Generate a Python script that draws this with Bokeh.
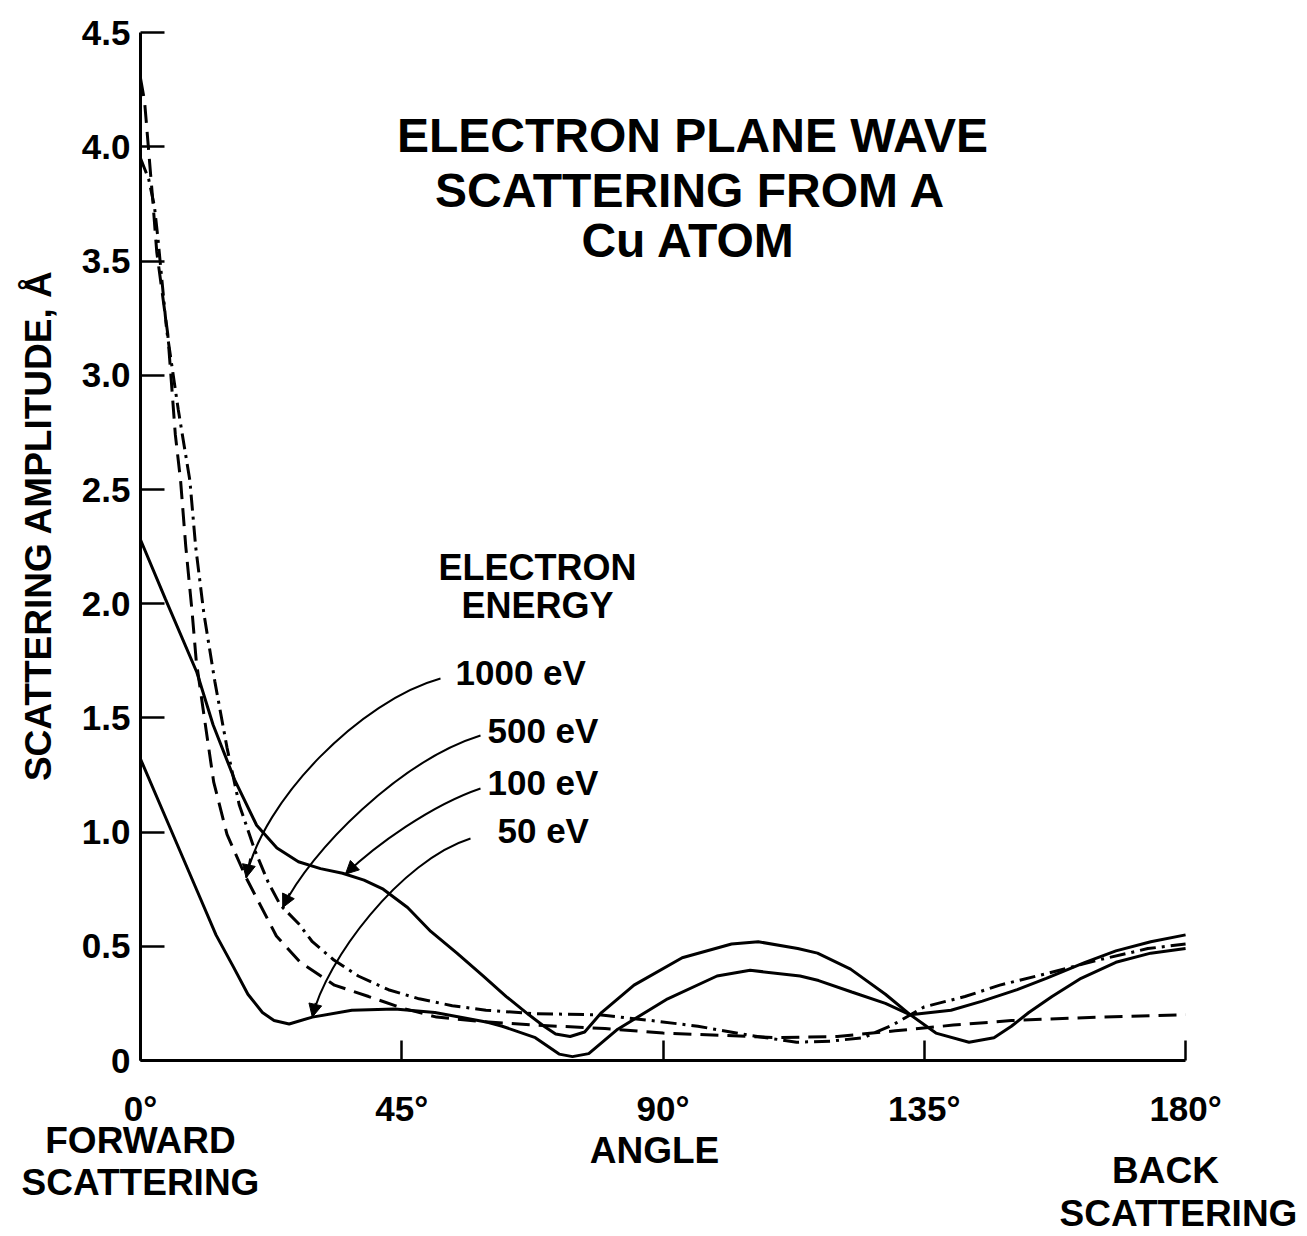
import numpy as np
from bokeh.plotting import figure
from bokeh.models import FixedTicker, Label, Arrow, NormalHead, LinearAxis
from bokeh.embed import file_html
from bokeh.resources import INLINE

# ---------------- data ----------------
angle_1000 = [0, 0.7, 2.1, 2.8, 4.7, 6.0, 6.9, 7.8, 8.9, 9.6, 11.0, 12.6, 14.9, 18.2, 23.4, 27.5,
              33.4, 39.3, 45, 51, 59, 68, 80, 90, 100, 110, 120, 130, 140, 150, 165, 180]
amp_1000 = [4.30, 4.20, 3.77, 3.54, 3.18, 2.74, 2.54, 2.25, 1.96, 1.75, 1.50, 1.22, 0.99, 0.80, 0.545, 0.43,
            0.33, 0.28, 0.23, 0.19, 0.17, 0.155, 0.14, 0.12, 0.11, 0.10, 0.105, 0.13, 0.155, 0.175, 0.19, 0.20]

angle_500 = [0, 1.4, 2.4, 3.0, 4.5, 6.5, 8.5, 9.5, 10.9, 12.8, 14.9, 17, 19.7, 22, 24.1, 27.2, 29.6,
             33.3, 37.5, 42.7, 48, 53.7, 59.5, 68, 79, 88, 96, 105, 113, 119, 124.5, 129.5, 135,
             142, 148, 156, 165, 173.5, 180]
amp_500 = [3.95, 3.86, 3.74, 3.60, 3.20, 2.85, 2.54, 2.25, 1.96, 1.66, 1.37, 1.12, 0.92, 0.78, 0.68, 0.60, 0.52,
           0.44, 0.37, 0.31, 0.27, 0.24, 0.22, 0.205, 0.20, 0.175, 0.15, 0.11, 0.08, 0.085, 0.10, 0.155, 0.235,
           0.28, 0.33, 0.38, 0.44, 0.49, 0.51]

angle_100 = [0, 4.3, 9.7, 12.5, 16.2, 20, 23.5, 27.2, 31, 34.8, 38.5, 41.8, 46, 50, 54.5, 59, 63, 66.9,
             69.5, 71.5, 74, 76.5, 79.4, 85, 93.3, 101.8, 106.4, 113.2, 116.6, 122.3, 128.3, 132.6,
             139.6, 145, 151, 156, 162.7, 168, 174, 180]
amp_100 = [2.28, 2.02, 1.70, 1.47, 1.23, 1.03, 0.93, 0.87, 0.84, 0.82, 0.79, 0.75, 0.67, 0.565, 0.47, 0.37, 0.28, 0.20,
           0.15, 0.116, 0.105, 0.125, 0.21, 0.33, 0.45, 0.51, 0.52, 0.49, 0.47, 0.40, 0.29, 0.20,
           0.22, 0.26, 0.31, 0.36, 0.43, 0.48, 0.52, 0.55]

angle_50 = [0, 4.9, 9.8, 13, 16, 18.5, 21, 23, 25.6, 29.6, 36.4, 43.8, 50.7, 59.3, 62.3, 68, 72.1, 74.4,
            77.2, 82.2, 90.8, 99.3, 105, 113.6, 116.8, 122.5, 128.3, 132.6, 137, 142.7, 147, 150, 153,
            157, 162, 168, 174, 180]
amp_50 = [1.32, 1.03, 0.74, 0.55, 0.41, 0.29, 0.21, 0.175, 0.16, 0.19, 0.22, 0.226, 0.21, 0.17, 0.15, 0.10, 0.028, 0.017,
          0.03, 0.137, 0.27, 0.37, 0.395, 0.37, 0.35, 0.30, 0.25, 0.20, 0.12, 0.08, 0.10, 0.15, 0.21,
          0.28, 0.36, 0.43, 0.47, 0.49]

x_ticks = [0, 45, 90, 135, 180]
x_tick_labels = ["0°", "45°", "90°", "135°", "180°"]
y_ticks = [0, 0.5, 1.0, 1.5, 2.0, 2.5, 3.0, 3.5, 4.0, 4.5]
y_tick_labels = ["0", "0.5", "1.0", "1.5", "2.0", "2.5", "3.0", "3.5", "4.0", "4.5"]

energy_labels = ["1000 eV", "500 eV", "100 eV", "50 eV"]

# ---------------- page geometry ----------------
FONT = "Liberation Sans"
W, H = 1300, 1234
PX0, SX = 140.0, 5.806      # pixel of 0 deg, pixels per degree
PY0, SY = 1060.0, 228.4     # pixel of amplitude 0, pixels per unit


def dx(px):
    return (px - PX0) / SX


def dy(py):
    return (PY0 - py) / SY


p = figure(width=W, height=H, x_range=(dx(0), dx(W)), y_range=(dy(H), dy(0)),
           output_backend="svg", toolbar_location=None,
           x_axis_location=None, y_axis_location=None,
           min_border_left=0, min_border_right=0, min_border_top=0, min_border_bottom=0)
p.outline_line_color = None
p.grid.visible = False
p.background_fill_color = "white"
p.border_fill_color = "white"

xaxis = LinearAxis(fixed_location=0, bounds=(0, 180), ticker=FixedTicker(ticks=x_ticks),
                   major_label_overrides={t: s for t, s in zip(x_ticks, x_tick_labels)})
yaxis = LinearAxis(fixed_location=0, bounds=(0, 4.5), ticker=FixedTicker(ticks=y_ticks),
                   major_label_overrides={t: s for t, s in zip(y_ticks, y_tick_labels)})
for ax in (xaxis, yaxis):
    ax.axis_line_width = 3
    ax.axis_line_color = "black"
    ax.major_tick_line_width = 2.5
    ax.major_tick_line_color = "black"
    ax.major_tick_out = 0
    ax.minor_tick_line_color = None
    ax.major_label_text_font = FONT
    ax.major_label_text_font_style = "bold"
    ax.major_label_text_font_size = "35px"
    ax.major_label_text_color = "black"
xaxis.major_tick_in = 20
xaxis.major_label_standoff = 28
yaxis.major_tick_in = 24
yaxis.major_label_standoff = 10
p.add_layout(xaxis, "below")
p.add_layout(yaxis, "left")

# ---------------- curves ----------------
p.line(angle_1000, amp_1000, line_color="black", line_width=3, line_dash="18 9")
p.line(angle_500, amp_500, line_color="black", line_width=3, line_dash="16 6 3 6")
p.line(angle_100, amp_100, line_color="black", line_width=3)
p.line(angle_50, amp_50, line_color="black", line_width=3)


# ---------------- annotations ----------------
def txt(px, py, s, size="35px", align="left", angle=0.0):
    p.add_layout(Label(x=dx(px), y=dy(py), text=s, text_font=FONT, text_font_style="bold",
                       text_font_size=size, text_align=align, text_baseline="middle",
                       text_color="black", angle=angle))


# title
txt(692, 135, "ELECTRON PLANE WAVE", size="48px", align="center")
txt(690, 190, "SCATTERING FROM A", size="48px", align="center")
txt(688, 240, "Cu ATOM", size="48px", align="center")

# legend header
txt(537, 567, "ELECTRON", size="36px", align="center")
txt(537, 605, "ENERGY", size="36px", align="center")

# energy labels with curved arrows (pixel anchors of the reference layout)
label_pos = [(455, 672), (487, 730), (487, 782), (497, 830)]
arrow_start = [(440, 678), (480, 735), (480, 788), (470, 838)]
ctrl0 = [(360, 700), (400, 760), (430, 805), (400, 860)]
ctrl1 = [(262, 800), (310, 850), (375, 845), (325, 960)]
tip_angle = [18.2, 24.5, 35.3, 29.6]
series = [(angle_1000, amp_1000), (angle_500, amp_500), (angle_100, amp_100), (angle_50, amp_50)]

for lab, lp, st, c0, c1, ta, (sa, sv) in zip(energy_labels, label_pos, arrow_start, ctrl0, ctrl1,
                                              tip_angle, series):
    txt(lp[0], lp[1], lab)
    tx, ty = ta, float(np.interp(ta, sa, sv))
    cx1, cy1 = dx(c1[0]), dy(c1[1])
    p.bezier(x0=[dx(st[0])], y0=[dy(st[1])], x1=[tx], y1=[ty], cx0=[dx(c0[0])], cy0=[dy(c0[1])],
             cx1=[cx1], cy1=[cy1], line_color="black", line_width=2)
    sx = tx + 0.25 * (cx1 - tx)
    sy = ty + 0.25 * (cy1 - ty)
    p.add_layout(Arrow(x_start=sx, y_start=sy, x_end=tx, y_end=ty, line_color="black", line_width=2,
                       end=NormalHead(size=13, fill_color="black", line_color="black")))

# axis titles
txt(38, 525, "SCATTERING AMPLITUDE, Å", size="37px", align="center", angle=np.pi / 2)
txt(140, 1140, "FORWARD", size="37px", align="center")
txt(140, 1182, "SCATTERING", size="37px", align="center")
txt(654, 1150, "ANGLE", size="37px", align="center")
txt(1165, 1170, "BACK", size="37px", align="center")
txt(1178, 1213, "SCATTERING", size="37px", align="center")

open("out.html", "w").write(file_html(p, INLINE))
